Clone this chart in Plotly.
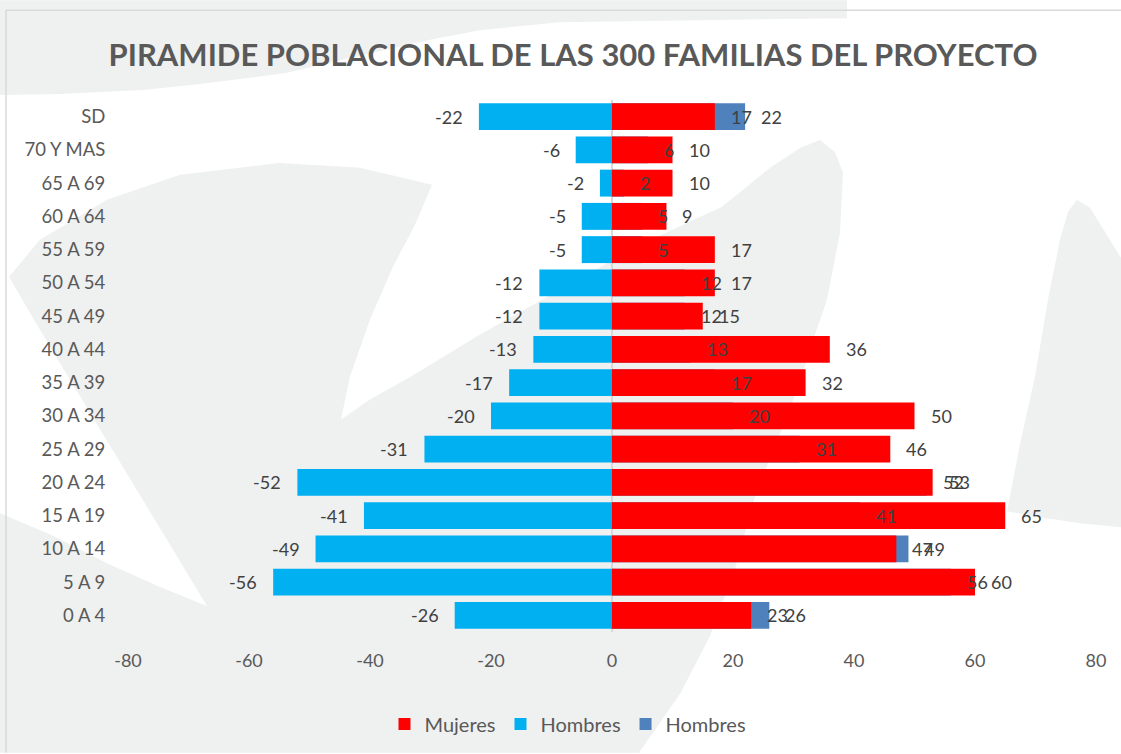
import plotly.graph_objects as go

# ---------------- data ----------------
categories = ["0 A 4", "5 A 9", "10 A 14", "15 A 19", "20 A 24", "25 A 29",
              "30 A 34", "35 A 39", "40 A 44", "45 A 49", "50 A 54", "55 A 59",
              "60 A 64", "65 A 69", "70 Y MAS", "SD"]
mujeres = [23, 60, 47, 65, 53, 46, 50, 32, 36, 15, 17, 17, 9, 10, 10, 17]
hombres = [-26, -56, -49, -41, -52, -31, -20, -17, -13, -12, -12, -5, -5, -2, -6, -22]
hombres_pos = [-v for v in hombres]
x_tick_vals = [-80, -60, -40, -20, 0, 20, 40, 60, 80]
x_tick_text = ["-80", "-60", "-40", "-20", "0", "20", "40", "60", "80"]
title_text = "PIRAMIDE POBLACIONAL DE LAS 300 FAMILIAS DEL PROYECTO"

# ---------------- styling ----------------
W, H = 1121, 754
ML, MR, MT, MB = 128, 25, 100, 121
PW, PH = W - ML - MR, H - MT - MB
FONT = "Lato"
RED, CYAN, STEEL = "#FF0000", "#00B0F0", "#4F81BD"
BG_GRAY = "#EFF0F0"
LABEL_COL = "#404040"
AXIS_COL = "#595959"


def px(x, y):
    return (x - ML) / PW, (H - MB - y) / PH


def path_from(points):
    parts = []
    for i, (x, y) in enumerate(points):
        xp, yp = px(x, y)
        parts.append(("M" if i == 0 else "L") + f"{xp:.5f},{yp:.5f}")
    return " ".join(parts) + " Z"


# background decoration (light grey watermark shapes), pixel outlines
top_band = [(0, 0), (847, 0), (847, 18), (700, 20), (560, 22), (480, 30), (429, 40),
            (350, 58), (286, 73), (200, 84), (143, 90), (60, 94), (0, 95)]
main_swoosh = [(0, 754), (0, 514), (50, 535), (107, 564), (160, 588), (207, 607),
               (140, 496), (68, 377), (35, 322), (9, 277), (40, 240), (107, 200),
               (180, 175), (279, 163), (360, 168), (432, 185), (415, 225), (393, 267),
               (370, 320), (350, 377), (341, 420), (370, 400), (411, 377), (480, 335),
               (560, 290), (640, 245), (722, 207), (770, 168), (800, 148), (820, 140),
               (835, 152), (843, 173), (840, 233), (827, 300), (810, 350), (800, 383),
               (778, 440), (756, 494), (735, 570), (710, 637), (680, 695), (639, 754)]
right_shape = [(1035, 377), (1048, 300), (1060, 240), (1068, 212), (1077, 200),
               (1090, 208), (1121, 258), (1121, 528), (1080, 524), (1040, 518),
               (1007, 512), (1020, 445)]

shapes = []
for poly in (top_band, main_swoosh, right_shape):
    shapes.append(dict(type="path", xref="paper", yref="paper", path=path_from(poly),
                       fillcolor=BG_GRAY, line=dict(width=0), layer="below"))
# chart frame (top and left edges)
fx0, fy0 = px(6, 10)
fx1, fy1 = px(W, H)
shapes.append(dict(type="line", xref="paper", yref="paper", x0=fx0, y0=fy0, x1=fx1, y1=fy0,
                   line=dict(color="#D9D9D9", width=1.5), layer="below"))
shapes.append(dict(type="line", xref="paper", yref="paper", x0=fx0, y0=fy0, x1=fx0, y1=fy1,
                   line=dict(color="#D9D9D9", width=1.5), layer="below"))

fig = go.Figure()
bar_w = 0.81
fig.add_trace(go.Bar(y=categories, x=hombres_pos, orientation="h", name="Hombres",
                     marker=dict(color=STEEL, line=dict(width=0)), width=bar_w,
                     legendrank=3, hoverinfo="x+y"))
fig.add_trace(go.Bar(y=categories, x=mujeres, orientation="h", name="Mujeres",
                     marker=dict(color=RED, line=dict(width=0)), width=bar_w,
                     legendrank=1, hoverinfo="x+y"))
fig.add_trace(go.Bar(y=categories, x=hombres, orientation="h", name="Hombres",
                     marker=dict(color=CYAN, line=dict(width=0)), width=bar_w,
                     legendrank=2, hoverinfo="x+y"))

annotations = []
lab_font = dict(family=FONT, size=18, color=LABEL_COL)
for cat, h, hp, m in zip(categories, hombres, hombres_pos, mujeres):
    annotations.append(dict(x=h, y=cat, xref="x", yref="y", text=str(h), showarrow=False,
                            xanchor="right", xshift=-14, font=lab_font))
    annotations.append(dict(x=hp, y=cat, xref="x", yref="y", text=str(hp), showarrow=False,
                            xanchor="left", xshift=14, font=lab_font))
    annotations.append(dict(x=m, y=cat, xref="x", yref="y", text=str(m), showarrow=False,
                            xanchor="left", xshift=14, font=lab_font))

fig.update_layout(
    width=W, height=H,
    margin=dict(l=ML, r=MR, t=MT, b=MB, pad=0),
    paper_bgcolor="white", plot_bgcolor="rgba(0,0,0,0)",
    barmode="overlay",
    font=dict(family=FONT, color=AXIS_COL, size=18),
    title=dict(text="<b>" + title_text + "</b>", x=573 / W, xanchor="center",
               y=1 - 55 / H, yanchor="middle", xref="container", yref="container",
               font=dict(family=FONT, size=31, color=AXIS_COL)),
    xaxis=dict(range=[-80, 80], tickvals=x_tick_vals, ticktext=x_tick_text,
               showgrid=False, showline=False, zeroline=True, zerolinecolor="#D9D9D9",
               zerolinewidth=1.5, ticks="outside", ticklen=12, tickcolor="rgba(0,0,0,0)",
               tickfont=dict(family=FONT, size=18, color=AXIS_COL), fixedrange=True),
    yaxis=dict(type="category", categoryorder="array", categoryarray=categories,
               showgrid=False, showline=False, zeroline=False, ticks="outside",
               ticklen=18, tickcolor="rgba(0,0,0,0)",
               tickfont=dict(family=FONT, size=18.5, color=AXIS_COL), fixedrange=True),
    legend=dict(orientation="h", x=(568 - ML) / PW, xanchor="center",
                y=(H - MB - 724) / PH, yanchor="middle",
                font=dict(family=FONT, size=20, color=AXIS_COL),
                bgcolor="rgba(0,0,0,0)", traceorder="normal"),
    shapes=shapes,
    annotations=annotations,
    bargap=0.19,
)

fig.write_html("out.html", config={"displayModeBar": False},
               post_script="document.body.style.margin='0';")
